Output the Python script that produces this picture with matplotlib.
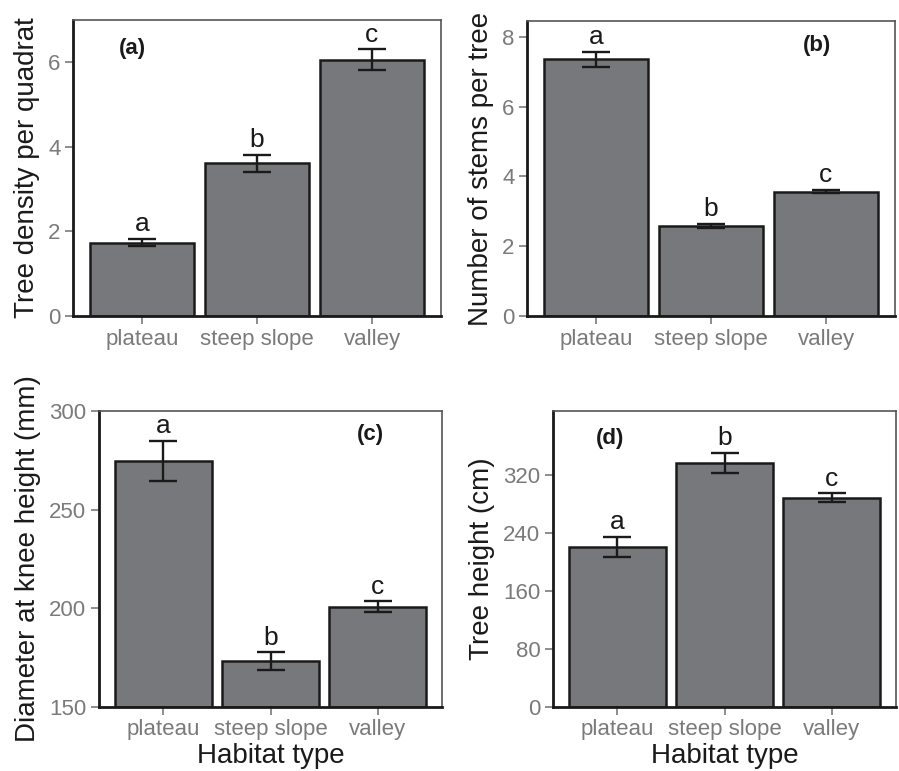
import matplotlib
matplotlib.use('Agg')
import matplotlib.pyplot as plt
import numpy as np

plt.rcParams['font.family'] = ['Liberation Sans', 'DejaVu Sans']

W, H = 899, 771

habitats = ['plateau', 'steep slope', 'valley']
letters = ['a', 'b', 'c']

density = [1.73, 3.61, 6.06]
density_se = [0.085, 0.20, 0.245]

stems = [7.35, 2.58, 3.56]
stems_se = [0.205, 0.05, 0.045]

diameter = [274.7, 173.1, 200.9]
diameter_se = [10.3, 4.6, 2.6]

height = [220.5, 337.5, 288.7]
height_se = [13.8, 13.8, 6.3]

BAR = '#77787b'
TICK_GRAY = '#7a7a7a'

fig = plt.figure(figsize=(W / 100, H / 100), dpi=100)


def px_axes(left, top, right, bottom):
    return fig.add_axes([left / W, 1 - bottom / H, (right - left) / W, (bottom - top) / H])


def panel(ax, vals, se, ylim, yticks, ylabel, tag, tag_xy, xlabel=None):
    x = np.arange(len(habitats))
    base = ylim[0]
    ax.bar(x, np.array(vals) - base, bottom=base, width=0.9, color=BAR,
           edgecolor='#1a1a1a', linewidth=1.8, zorder=2)
    ax.errorbar(x, vals, yerr=se, fmt='none', ecolor='#1a1a1a', elinewidth=1.7,
                capsize=10, capthick=1.7, zorder=3)
    for xi, v, s, l in zip(x, vals, se, letters):
        ax.annotate(l, (xi, v + s), xytext=(0, 2), textcoords='offset points',
                    ha='center', va='bottom', fontsize=19, color='#1a1a1a')
    ax.text(tag_xy[0], tag_xy[1], tag, ha='center', va='center',
            fontsize=16, fontweight='bold', color='#1a1a1a')
    ax.set_xlim(-0.6, 2.6)
    ax.set_ylim(*ylim)
    ax.set_yticks(yticks)
    ax.set_xticks(x)
    ax.set_xticklabels(habitats)
    ax.tick_params(axis='both', direction='out', length=6, width=1.2,
                   color=TICK_GRAY, labelcolor=TICK_GRAY, labelsize=16, pad=3)
    ax.set_ylabel(ylabel, fontsize=20, color='#1a1a1a', labelpad=6)
    if xlabel:
        ax.set_xlabel(xlabel, fontsize=20, color='#1a1a1a', labelpad=1.5)
    for s in ['left', 'bottom']:
        ax.spines[s].set_color('#1a1a1a')
        ax.spines[s].set_linewidth(2.0)
    for s in ['top', 'right']:
        ax.spines[s].set_color('#555555')
        ax.spines[s].set_linewidth(1.2)


ax_a = px_axes(73, 20, 441, 316)
panel(ax_a, density, density_se, (0, 7.0), [0, 2, 4, 6],
      'Tree density per quadrat', '(a)', (-0.08, 6.33))

ax_b = px_axes(527, 21, 895, 316)
panel(ax_b, stems, stems_se, (0, 8.45), [0, 2, 4, 6, 8],
      'Number of stems per tree', '(b)', (1.92, 7.76))

ax_c = px_axes(99, 411, 442, 707)
panel(ax_c, diameter, diameter_se, (150, 300), [150, 200, 250, 300],
      'Diameter at knee height (mm)', '(c)', (1.93, 288.2), xlabel='Habitat type')

ax_d = px_axes(553, 411, 896, 707)
panel(ax_d, height, height_se, (0, 408.6), [0, 80, 160, 240, 320],
      'Tree height (cm)', '(d)', (-0.07, 370.3), xlabel='Habitat type')

fig.savefig('out.png', dpi=100)
